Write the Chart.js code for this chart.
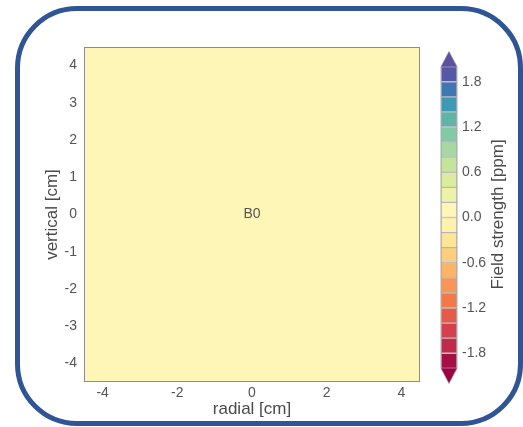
<!DOCTYPE html>
<html>
<head>
<meta charset="utf-8">
<script src="https://cdn.jsdelivr.net/npm/chart.js@4.4.1/dist/chart.umd.min.js"></script>
<style>
  html, body { margin: 0; padding: 0; background: #fff; }
  #wrap { position: relative; width: 523px; height: 427px; overflow: hidden; }
  #frame {
    position: absolute; left: 15px; top: 6px; width: 508px; height: 420px;
    box-sizing: border-box; border: 5px solid #2f5597; border-radius: 62px;
  }
  canvas { position: absolute; left: 0; top: 0; }
</style>
</head>
<body>
<div id="wrap">
  <div id="frame"></div>
  <canvas id="field" width="523" height="427"></canvas>
  <canvas id="cbar" width="523" height="427"></canvas>
</div>
<script>
// field map data: a uniform B0 field over the whole window
const regionX = [-4.5, 4.5];
const regionTop = 4.5;
const regionBottom = -4.5;
const fieldValue = 0.0;
const fieldLabel = 'B0';
const labelX = 0;
const labelY = 0;

const xTickValues = [-4, -2, 0, 2, 4];
const yTickValues = [-4, -3, -2, -1, 0, 1, 2, 3, 4];

// colour bar levels (bottom to top) and band colours
const levels = [-2.0, -1.8, -1.6, -1.4, -1.2, -1.0, -0.8, -0.6, -0.4, -0.2, 0.0,
                0.2, 0.4, 0.6, 0.8, 1.0, 1.2, 1.4, 1.6, 1.8, 2.0];
const bandColors = [
  '#a50f45', '#c02a4b', '#d6404e', '#e65a48', '#f3784a',
  '#f99655', '#fdb466', '#fecd7e', '#fee596', '#fff2ac',
  '#fef6b7', '#eef2a6', '#dceb9d', '#c4e49c', '#a6d8a3',
  '#82c9a6', '#5fb5a9', '#3f98b5', '#3d78b3', '#5359a7'
];
const extendLow = '#9e0142';
const extendHigh = '#5e4fa2';
const extendSize = 0.2;
const cbarTicks = [-1.8, -1.2, -0.6, 0.0, 0.6, 1.2, 1.8];

const font = "'Liberation Sans', Arial, sans-serif";
const tickColor = '#555';
const titleColor = '#4a4a4a';

function colorFor(v) {
  for (let i = 0; i < bandColors.length; i++) {
    if (v >= levels[i] && v < levels[i + 1]) return bandColors[i];
  }
  return v < levels[0] ? extendLow : extendHigh;
}

// frame around plot area + text label
const plotFrame = {
  id: 'plotFrame',
  afterDatasetsDraw(chart) {
    const { ctx, chartArea: a, scales } = chart;
    ctx.save();
    ctx.strokeStyle = '#8c8c8c';
    ctx.lineWidth = 1;
    ctx.strokeRect(a.left + 0.5, a.top + 0.5, a.right - a.left - 1, a.bottom - a.top - 1);
    ctx.fillStyle = '#555';
    ctx.font = '14px ' + font;
    ctx.textAlign = 'center';
    ctx.textBaseline = 'middle';
    ctx.fillText(fieldLabel, scales.x.getPixelForValue(labelX), scales.y.getPixelForValue(labelY));
    ctx.restore();
  }
};

new Chart(document.getElementById('field'), {
  type: 'scatter',
  data: {
    datasets: [{
      data: regionX.map(x => ({ x: x, y: regionTop })),
      showLine: true,
      borderWidth: 0,
      pointRadius: 0,
      backgroundColor: colorFor(fieldValue),
      fill: { value: regionBottom }
    }]
  },
  options: {
    responsive: false,
    animation: false,
    layout: { padding: { left: 40, top: 47, right: 103, bottom: 0 } },
    plugins: { legend: { display: false }, tooltip: { enabled: false } },
    scales: {
      x: {
        min: -4.5, max: 4.5,
        afterBuildTicks: s => { s.ticks = xTickValues.map(v => ({ value: v })); },
        afterFit: s => { s.height = 45; },
        grid: { display: false, drawTicks: false },
        border: { display: false },
        ticks: { color: tickColor, font: { family: font, size: 14 }, padding: 3 },
        title: { display: true, text: 'radial [cm]', color: titleColor,
                 font: { family: font, size: 17 }, padding: { top: 0, bottom: 7 } }
      },
      y: {
        min: -4.5, max: 4.5,
        afterBuildTicks: s => { s.ticks = yTickValues.map(v => ({ value: v })); },
        afterFit: s => { s.width = 44; },
        grid: { display: false, drawTicks: false },
        border: { display: false },
        ticks: { color: tickColor, font: { family: font, size: 14 }, padding: 7 },
        title: { display: true, text: 'vertical [cm]', color: titleColor,
                 font: { family: font, size: 17 }, padding: { top: 2, bottom: 0 } }
      }
    }
  },
  plugins: [plotFrame]
});

// extension triangles, outline and rotated title of the colour bar
const cbarExtras = {
  id: 'cbarExtras',
  afterDatasetsDraw(chart) {
    const { ctx, chartArea: a, scales } = chart;
    const y = scales.y;
    const top = levels[levels.length - 1];
    const bot = levels[0];
    const yTop = y.getPixelForValue(top);
    const yTip = y.getPixelForValue(top + extendSize);
    const yBot = y.getPixelForValue(bot);
    const yBTip = y.getPixelForValue(bot - extendSize);
    const mid = (a.left + a.right) / 2;
    ctx.save();
    ctx.fillStyle = extendHigh;
    ctx.beginPath();
    ctx.moveTo(a.left, yTop); ctx.lineTo(mid, yTip); ctx.lineTo(a.right, yTop); ctx.closePath();
    ctx.fill();
    ctx.fillStyle = extendLow;
    ctx.beginPath();
    ctx.moveTo(a.left, yBot); ctx.lineTo(mid, yBTip); ctx.lineTo(a.right, yBot); ctx.closePath();
    ctx.fill();
    ctx.strokeStyle = 'rgba(140,140,140,0.7)';
    ctx.lineWidth = 1;
    ctx.beginPath();
    ctx.moveTo(a.left, yBot); ctx.lineTo(mid, yBTip); ctx.lineTo(a.right, yBot);
    ctx.lineTo(a.right, yTop); ctx.lineTo(mid, yTip); ctx.lineTo(a.left, yTop);
    ctx.closePath();
    ctx.stroke();
    ctx.translate(498, y.getPixelForValue(0) - 3);
    ctx.rotate(-Math.PI / 2);
    ctx.fillStyle = titleColor;
    ctx.font = '17px ' + font;
    ctx.textAlign = 'center';
    ctx.textBaseline = 'middle';
    ctx.fillText('Field strength [ppm]', 0, 0);
    ctx.restore();
  }
};

new Chart(document.getElementById('cbar'), {
  type: 'bar',
  data: {
    labels: [''],
    datasets: bandColors.map((c, i) => ({
      data: [[levels[i], levels[i + 1]]],
      backgroundColor: c,
      borderColor: 'rgba(150,150,150,0.55)',
      borderWidth: 1,
      borderSkipped: false,
      grouped: false,
      categoryPercentage: 1,
      barPercentage: 1
    }))
  },
  options: {
    responsive: false,
    animation: false,
    layout: { padding: { left: 441, top: 51.6, right: 0, bottom: 43.6 } },
    plugins: { legend: { display: false }, tooltip: { enabled: false } },
    scales: {
      x: { display: false },
      y: {
        position: 'right',
        min: -2.2, max: 2.2,
        afterBuildTicks: s => { s.ticks = cbarTicks.map(v => ({ value: v })); },
        afterFit: s => { s.width = 66; },
        grid: { display: false, drawTicks: false },
        border: { display: false },
        ticks: { color: tickColor, font: { family: font, size: 14 }, padding: 5,
                 callback: v => v.toFixed(1) }
      }
    }
  },
  plugins: [cbarExtras]
});
</script>
</body>
</html>
